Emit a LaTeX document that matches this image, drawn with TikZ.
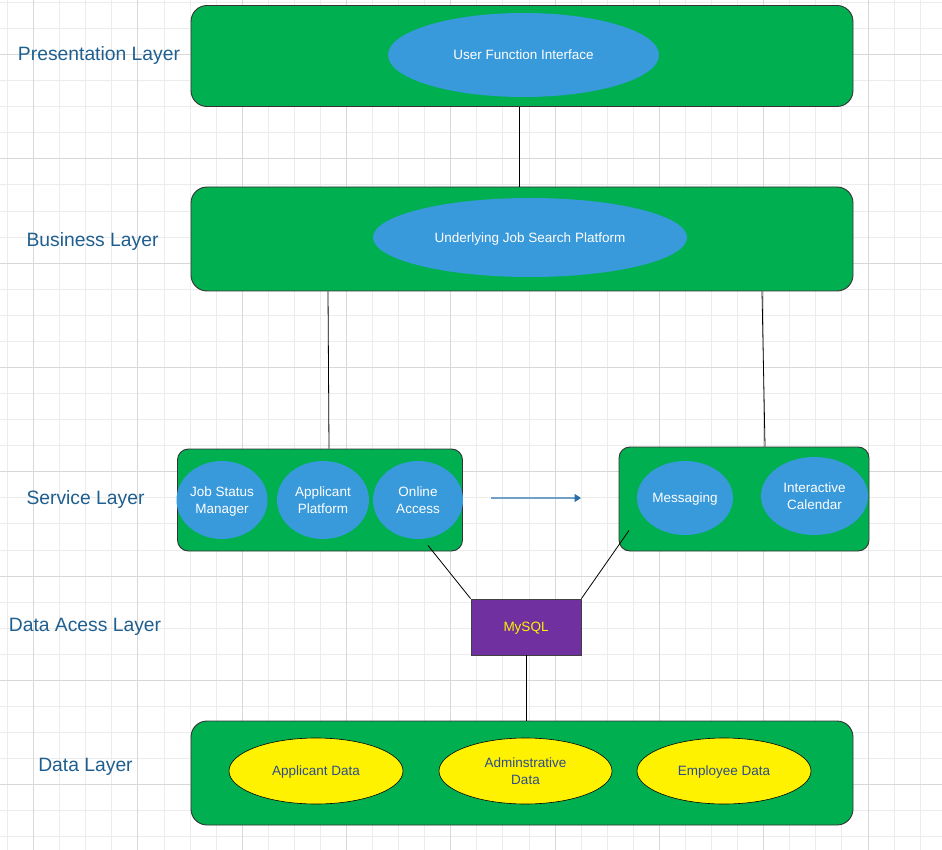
\documentclass[tikz,border=0pt]{standalone}
\usepackage{fontspec}
\setmainfont{Liberation Sans}
\usetikzlibrary{shapes.geometric,calc,arrows.meta}
\definecolor{gridminor}{HTML}{ECECEC}
\definecolor{gridmajor}{HTML}{D8D8D8}
\definecolor{layergreen}{HTML}{00B050}
\definecolor{ovalblue}{HTML}{3899DB}
\definecolor{sqlpurple}{HTML}{7030A0}
\definecolor{labelblue}{HTML}{1F5F8F}
\definecolor{datatext}{HTML}{2C4C8C}
\definecolor{flowline}{HTML}{70A0C6}
\definecolor{flowhead}{HTML}{2D6DA6}
\begin{document}
\begin{tikzpicture}[x=1pt,y=-1pt,
  layerbox/.style={draw=black!80,line width=0.9pt,fill=layergreen,rounded corners=16pt,inner sep=0pt},
  servicebox/.style={draw=black!80,line width=0.9pt,fill=layergreen,rounded corners=11pt,inner sep=0pt},
  ovaltext/.style={ellipse,inner sep=0pt,align=center,text depth=0pt,font=\fontsize{13.5}{17}\selectfont},
  blueoval/.style={ovaltext,fill=ovalblue,text=white},
  yellowoval/.style={ovaltext,draw=black,line width=0.6pt,fill=yellow,text=datatext},
  layerlabel/.style={text=labelblue,font=\fontsize{19.3}{22}\selectfont,inner sep=0pt,text depth=0pt},
  link/.style={draw=black,line width=0.8pt}]
\useasboundingbox (0,0) rectangle (942,850);
\fill[white] (0,0) rectangle (942,850);
% background grid
\foreach \i in {-1,...,36} {
  \draw[gridminor,line width=0.75pt] ({33.5+26.075*\i},0) -- ({33.5+26.075*\i},850);
}
\foreach \i in {-2,...,32} {
  \draw[gridminor,line width=0.75pt] (0,{54.5+26.075*\i}) -- (942,{54.5+26.075*\i});
}
\foreach \i in {0,...,8} {
  \draw[gridmajor,line width=0.8pt] ({33.5+104.3*\i},0) -- ({33.5+104.3*\i},850);
  \draw[gridmajor,line width=0.8pt] (0,{54.5+104.3*\i}) -- (942,{54.5+104.3*\i});
}

% layer labels
\node[layerlabel] (lpres) at (99,54) {Presentation Layer};
\node[layerlabel] (lbus) at (92.5,240) {Business Layer};
\node[layerlabel] (lserv) at (85.5,498) {Service Layer};
\node[layerlabel] (ldal) at (85,625) {Data Acess Layer};
\node[layerlabel] (ldata) at (85.5,765) {Data Layer};

% presentation layer
\node[layerbox,minimum width=662pt,minimum height=101pt] (pres) at (522,56) {};
\node[blueoval,minimum width=271pt,minimum height=84pt] (ufi) at (523.5,55) {User Function Interface};

% business layer
\node[layerbox,minimum width=662pt,minimum height=104pt] (bus) at (522,239) {};
\node[blueoval,minimum width=314pt,minimum height=79pt] (ujs) at (530,237.5) {Underlying Job Search Platform};

% service layer, left group
\node[servicebox,minimum width=285pt,minimum height=102pt] (sl) at (320,500) {};
\node[blueoval,minimum width=91pt,minimum height=78pt] (jsm) at (222,500) {Job Status\\Manager};
\node[blueoval,minimum width=92pt,minimum height=78pt] (ap) at (323,500) {Applicant\\Platform};
\node[blueoval,minimum width=90pt,minimum height=78pt] (oa) at (418,500) {Online\\Access};

% service layer, right group
\node[servicebox,minimum width=250pt,minimum height=104pt] (sr) at (744,499) {};
\node[blueoval,minimum width=96pt,minimum height=74pt] (msg) at (685,498) {Messaging};
\node[blueoval,minimum width=107pt,minimum height=78pt] (cal) at (814.5,496) {Interactive\\Calendar};

% data access layer
\node[draw=black!75,line width=0.9pt,fill=sqlpurple,minimum width=110pt,minimum height=56pt,inner sep=0pt,
      text depth=0pt,text=yellow,font=\fontsize{13.5}{17}\selectfont] (sql) at (526,627) {MySQL};

% data layer
\node[layerbox,minimum width=662pt,minimum height=104pt] (data) at (522,773) {};
\node[yellowoval,minimum width=174pt,minimum height=66pt] (dapp) at (316,771) {Applicant Data};
\node[yellowoval,minimum width=173pt,minimum height=66pt] (dadm) at (525.5,771) {Adminstrative\\Data};
\node[yellowoval,minimum width=174pt,minimum height=66pt] (demp) at (724,771) {Employee Data};

% connectors
\draw[link] ([xshift=-3pt]pres.south) -- ([xshift=-3pt]pres.south |- bus.north);
\draw[link] ([xshift=-194pt]bus.south) -- ([xshift=9pt]sl.north);
\draw[link] ([xshift=240pt]bus.south) -- ([xshift=21pt]sr.north);
\draw[link] ($(sl.south)+(108,-6)$) -- (sql.north west);
\draw[link] ($(sr.south)+(-115,-21)$) -- (sql.north east);
\draw[link] (sql.south) -- (sql.south |- data.north);

% flow arrow between the service groups
\coordinate (fa) at (491,498);
\coordinate (fb) at (581,498);
\draw[flowline,line width=1.3pt,-{Triangle[length=6.5pt,width=8pt,color=flowhead]}] (fa) -- (fb);
\end{tikzpicture}
\end{document}
